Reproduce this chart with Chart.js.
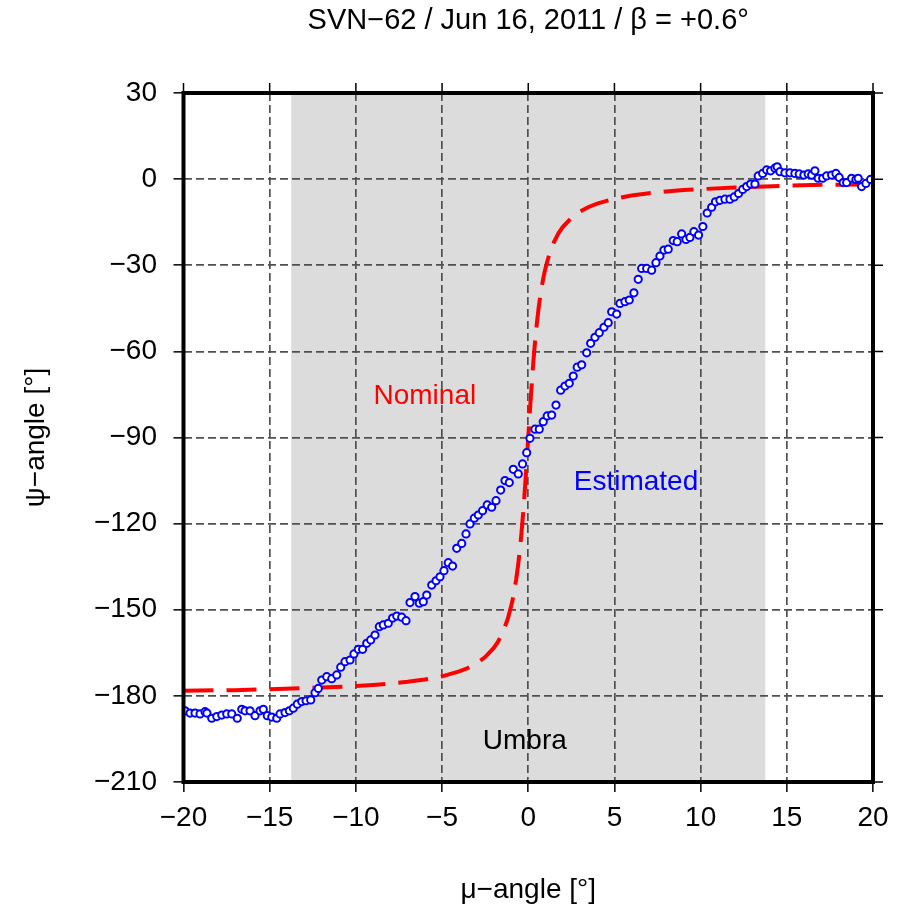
<!DOCTYPE html>
<html>
<head>
<meta charset="utf-8">
<script src="https://cdn.jsdelivr.net/npm/chart.js@4/dist/chart.umd.min.js"></script>
<style>
  html, body { margin: 0; padding: 0; background: #fff; }
  #wrap { width: 901px; height: 907px; position: relative; }
</style>
</head>
<body>
<div id="wrap"><canvas id="chart"></canvas></div>
<script>
const fontFamily = '"Liberation Sans", Arial, Helvetica, sans-serif';
const red = '#ff0000';
const blue = '#0000ff';

const titleText = 'SVN\u221262 / Jun 16, 2011 / \u03b2 = +0.6\u00b0';
const xTitle = '\u03bc\u2212angle [\u00b0]';
const yTitle = '\u03c8\u2212angle [\u00b0]';

// umbra (eclipse) interval in mu
const umbraStart = -13.75;
const umbraEnd = 13.75;

// nominal yaw (red dashed)
const nomMu = [-20, -17, -15, -12, -10, -9, -8, -7, -6, -5, -4, -3.5, -3, -2.5, -2, -1.75, -1.5, -1.2, -1, -0.9, -0.8, -0.7, -0.6, -0.5, -0.4, -0.35, -0.3, -0.25, -0.2, -0.15, -0.1, -0.05, 0,
  0.05, 0.1, 0.15, 0.2, 0.25, 0.3, 0.35, 0.4, 0.5, 0.6, 0.7, 0.8, 0.9, 1, 1.2, 1.5, 1.75, 2, 2.5, 3, 3.5, 4, 5, 6, 7, 8, 9, 10, 12, 15, 17, 20];
const nomPsi = [-178.2, -178.0, -177.7, -177.1, -176.6, -176.2, -175.7, -175.1, -174.3, -173.2, -171.5, -170.3, -168.7, -166.5, -163.3, -161.1, -158.2, -153.4, -149.0, -146.3, -143.1, -139.4, -135.0, -129.8, -123.7, -120.3, -116.6, -112.6, -108.4, -104.0, -99.5, -94.8, -90.0,
  -85.2, -80.5, -76.0, -71.6, -67.4, -63.4, -59.7, -56.3, -50.2, -45.0, -40.6, -36.9, -33.7, -31.0, -26.6, -21.8, -18.9, -16.7, -13.5, -11.3, -9.7, -8.5, -6.8, -5.7, -4.9, -4.3, -3.8, -3.5, -2.9, -2.3, -2.0, -1.8];

// estimated yaw (blue circles)
const estMu = [-19.91, -19.62, -19.33, -19.04, -18.75, -18.64, -18.36, -18.07, -17.78, -17.49, -17.20, -16.88, -16.62, -16.43, -16.14, -15.85, -15.56, -15.37, -15.14, -14.88,
  -14.59, -14.40, -14.11, -13.86, -13.63, -13.40, -13.14, -12.89, -12.62, -12.37, -12.18, -11.98, -11.69, -11.40, -11.11, -10.88, -10.63, -10.34, -10.11, -9.86,
  -9.61, -9.37, -9.14, -8.89, -8.64, -8.41, -8.12, -7.87, -7.63, -7.34, -7.09, -6.86, -6.57, -6.32, -6.09, -5.89, -5.60, -5.35, -5.12, -4.89,
  -4.64, -4.39, -4.15, -3.86, -3.61, -3.38, -3.13, -2.90, -2.65, -2.38, -2.12, -1.87, -1.60, -1.35, -1.10, -0.87, -0.58, -0.33, -0.09, 0.10,
  0.39, 0.64, 0.87, 1.10, 1.36, 1.61, 1.88, 2.13, 2.38, 2.61, 2.84, 3.10, 3.39, 3.62, 3.87, 4.12, 4.39, 4.64, 4.84, 5.13,
  5.32, 5.61, 5.86, 6.13, 6.38, 6.58, 6.87, 7.16, 7.41, 7.64, 7.87, 8.12, 8.41, 8.64, 8.90, 9.15, 9.38, 9.61, 9.88, 10.13,
  10.38, 10.64, 10.86, 11.12, 11.41, 11.70, 11.95, 12.20, 12.44, 12.67, 12.90, 13.15, 13.34, 13.60, 13.83, 14.06, 14.31, 14.44, 14.60, 14.89,
  15.18, 15.47, 15.72, 15.99, 16.24, 16.44, 16.63, 16.82, 17.08, 17.31, 17.60, 17.85, 18.04, 18.27, 18.47, 18.76, 19.01, 19.14, 19.34, 19.59, 19.86];
const estPsi = [-185.2, -186.0, -186.0, -186.3, -185.5, -186.0, -187.8, -187.2, -186.7, -186.3, -186.3, -187.8, -184.7, -185.2, -185.2, -186.9, -185.2, -184.7, -186.9, -187.4,
  -187.8, -186.3, -185.8, -185.2, -184.3, -182.9, -182.0, -181.7, -181.4, -178.9, -177.4, -174.5, -173.3, -174.0, -172.7, -170.0, -168.1, -167.5, -165.4, -163.8,
  -163.8, -161.7, -160.5, -158.8, -155.9, -155.3, -154.7, -152.9, -152.2, -152.6, -153.8, -147.5, -145.4, -147.7, -147.2, -144.9, -141.4, -139.9, -138.5, -136.4,
  -133.6, -134.8, -128.6, -126.9, -123.6, -120.1, -118.1, -117.0, -115.5, -113.5, -114.3, -112.0, -108.3, -105.0, -105.7, -101.1, -102.7, -99.2, -95.3, -90.3,
  -87.1, -87.1, -84.5, -82.5, -82.2, -78.7, -73.5, -72.1, -71.1, -68.6, -65.5, -64.7, -60.5, -57.2, -55.1, -53.5, -51.6, -50.0, -46.2, -47.0,
  -43.3, -42.7, -42.1, -39.6, -34.9, -31.1, -31.1, -31.7, -29.1, -26.8, -24.7, -24.4, -21.4, -21.8, -19.1, -21.0, -20.3, -18.3, -19.5, -16.5,
  -11.8, -9.8, -7.9, -7.4, -7.0, -7.0, -6.2, -5.0, -3.6, -2.6, -1.7, -1.7, 1.1, 2.0, 3.2, 2.9, 3.8, 4.3, 2.6, 2.2,
  2.2, 2.0, 1.8, 1.4, 1.8, 1.4, 2.9, 0.3, 0.3, 1.1, 1.4, 2.0, 0.6, -1.2, -1.2, 0.3, -0.1, 0.3, -2.6, -1.5, -0.1];

const xMin = -20, xMax = 20, xStep = 5;
const yMin = -210, yMax = 30, yStep = 30;

const nominalPoints = nomMu.map((m, i) => ({ x: m, y: nomPsi[i] }));
const estimatedPoints = estMu.map((m, i) => ({ x: m, y: estPsi[i] }));

const minusFmt = v => String(v).replace('-', '\u2212');

// shading, in-plot labels, heavy frame and outer ticks on top/right
const decorations = {
    id: 'decorations',
    beforeDraw(chart) {
        const { ctx, chartArea: a, scales: { x } } = chart;
        const l = x.getPixelForValue(umbraStart);
        const r = x.getPixelForValue(umbraEnd);
        ctx.save();
        ctx.fillStyle = '#dcdcdc';
        ctx.fillRect(l, a.top, r - l, a.bottom - a.top);
        ctx.restore();
    },
    afterDatasetsDraw(chart) {
        const { ctx, scales: { x, y } } = chart;
        ctx.save();
        ctx.font = '28px ' + fontFamily;
        ctx.textAlign = 'center';
        ctx.textBaseline = 'middle';
        ctx.fillStyle = red;
        ctx.fillText('Nominal', x.getPixelForValue(-6.0), y.getPixelForValue(-75.5));
        ctx.fillStyle = blue;
        ctx.fillText('Estimated', x.getPixelForValue(6.25), y.getPixelForValue(-105.5));
        ctx.fillStyle = '#000';
        ctx.fillText('Umbra', x.getPixelForValue(-0.2), y.getPixelForValue(-195.7));
        ctx.restore();
    },
    afterDraw(chart) {
        const { ctx, chartArea: a, scales: { x, y } } = chart;
        ctx.save();
        ctx.strokeStyle = '#000';
        ctx.lineWidth = 1.5;
        ctx.beginPath();
        x.ticks.forEach(t => {
            const px = x.getPixelForValue(t.value);
            ctx.moveTo(px, a.top);
            ctx.lineTo(px, a.top - 10);
        });
        y.ticks.forEach(t => {
            const py = y.getPixelForValue(t.value);
            ctx.moveTo(a.right, py);
            ctx.lineTo(a.right + 10, py);
        });
        ctx.stroke();
        ctx.lineWidth = 4;
        ctx.strokeRect(a.left, a.top, a.right - a.left, a.bottom - a.top);
        ctx.restore();
    }
};

const gridStyle = {
    color: '#505050',
    lineWidth: 1.7,
    drawTicks: true,
    tickLength: 10,
    tickColor: '#000',
    tickWidth: 1.5,
    tickBorderDash: []
};

new Chart(document.getElementById('chart'), {
    type: 'scatter',
    data: {
        datasets: [
            {
                label: 'Estimated',
                data: estimatedPoints,
                showLine: false,
                pointStyle: 'circle',
                pointRadius: 3.6,
                pointBorderWidth: 2,
                pointBorderColor: blue,
                pointBackgroundColor: '#ffffff'
            },
            {
                label: 'Nominal',
                data: nominalPoints,
                showLine: true,
                borderColor: red,
                borderWidth: 4,
                borderDash: [30, 13],
                pointRadius: 0,
                tension: 0
            }
        ]
    },
    options: {
        responsive: true,
        maintainAspectRatio: false,
        animation: false,
        devicePixelRatio: 1,
        layout: { padding: { top: 0, right: 28, bottom: 0, left: 0 } },
        plugins: {
            legend: { display: false },
            tooltip: { enabled: false },
            title: {
                display: true,
                fullSize: false,
                text: titleText,
                color: '#000',
                font: { family: fontFamily, size: 29, weight: 'normal' },
                padding: { top: 4, bottom: 54.2 }
            }
        },
        scales: {
            x: {
                type: 'linear',
                min: xMin,
                max: xMax,
                afterFit: s => { s.height = 125; },
                ticks: {
                    stepSize: xStep,
                    padding: 9,
                    color: '#000',
                    font: { family: fontFamily, size: 28 },
                    callback: minusFmt
                },
                grid: gridStyle,
                border: { display: false, dash: [8, 4] },
                title: {
                    display: true,
                    text: xTitle,
                    color: '#000',
                    font: { family: fontFamily, size: 28 },
                    padding: { top: 1, bottom: 0 }
                }
            },
            y: {
                type: 'linear',
                min: yMin,
                max: yMax,
                afterFit: s => { s.width = 183.5; },
                ticks: {
                    stepSize: yStep,
                    padding: 16.5,
                    color: '#000',
                    font: { family: fontFamily, size: 28 },
                    callback: minusFmt
                },
                grid: gridStyle,
                border: { display: false, dash: [8, 4] },
                title: {
                    display: true,
                    text: yTitle,
                    color: '#000',
                    font: { family: fontFamily, size: 28 },
                    padding: { top: 19, bottom: 0 }
                }
            }
        }
    },
    plugins: [decorations]
});
</script>
</body>
</html>
